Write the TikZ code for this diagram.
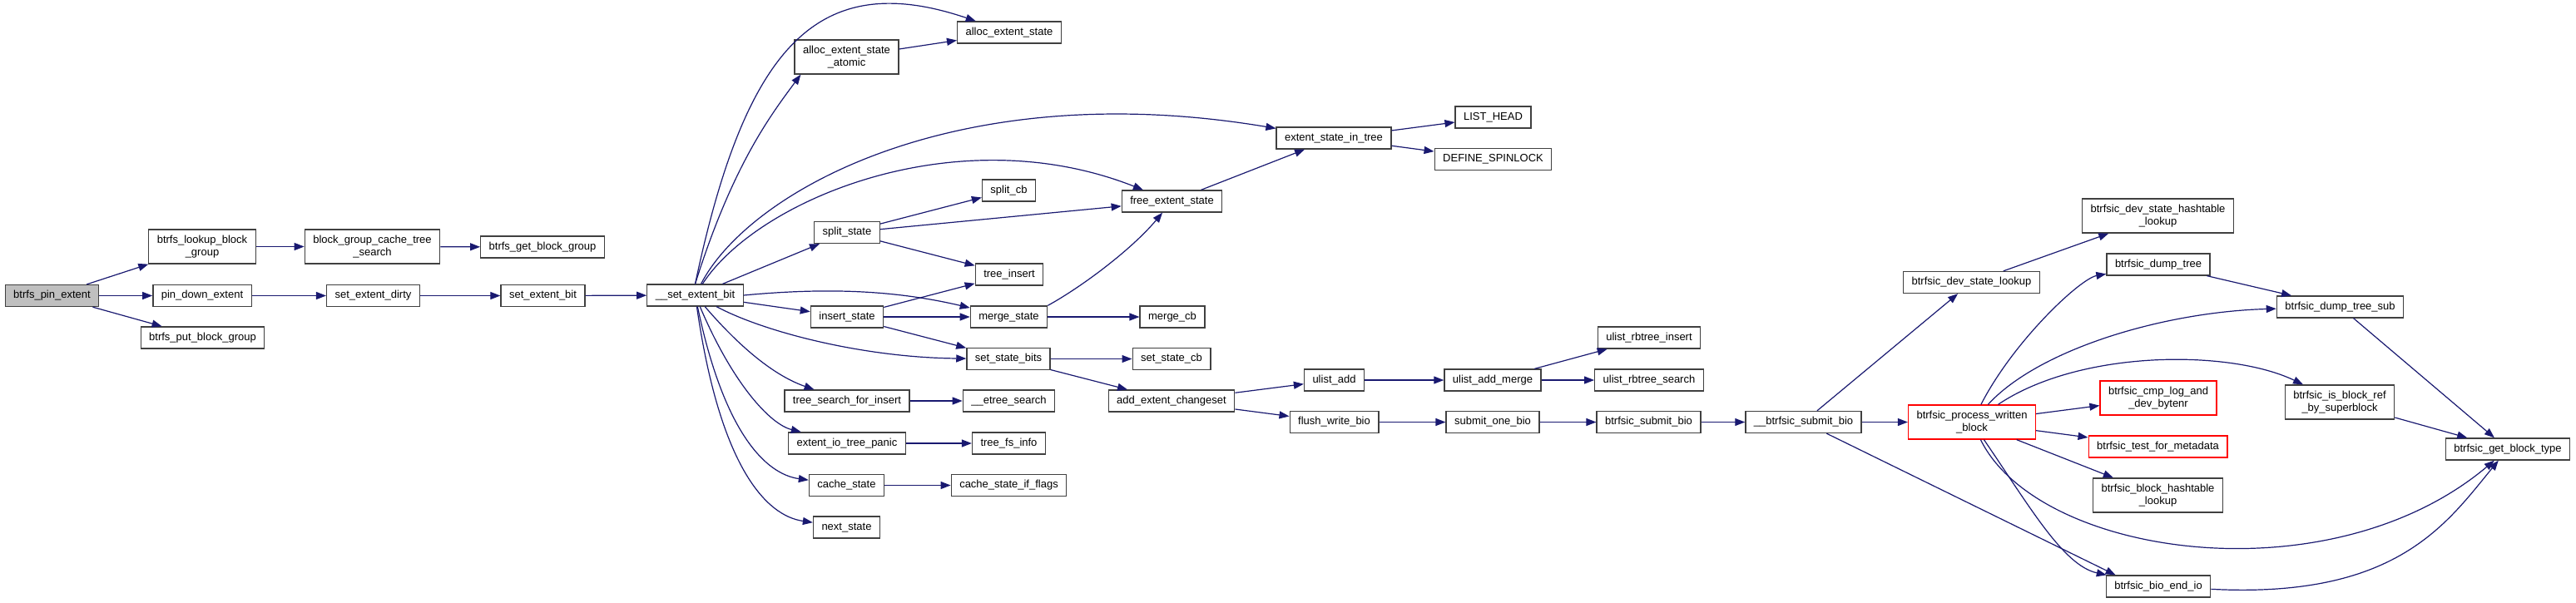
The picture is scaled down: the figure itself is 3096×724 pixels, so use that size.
\documentclass[tikz,border=0pt]{standalone}
\usepackage{fontspec}
\setmainfont{Liberation Sans}
\usetikzlibrary{arrows.meta}
\definecolor{callblue}{HTML}{191970}

\begin{document}
\begin{tikzpicture}[
    x=1pt, y=-1pt,
    font=\fontsize{13}{15}\selectfont,
    func/.style={rectangle, draw=black!75, line width=1.3pt, fill=white, minimum height=26pt,
      inner xsep=10pt, inner ysep=2pt, text height=9.5pt, text depth=3pt, align=center},
    func2/.style={func, minimum height=41pt, text height={}, text depth={}},
    rootfunc/.style={func, fill=black!25},
    redfunc/.style={func, draw=red},
    redfunc2/.style={func2, draw=red},
    call/.style={-{Triangle[length=12pt,width=9pt]}, line width=1.2pt, color=callblue},
  ]
  \useasboundingbox (0,0) rectangle (3096,724);

  \node[rootfunc] (pin)      at (62.5,355.5)  {btrfs\_pin\_extent};
  \node[func2]    (lookup)   at (243,296.5)   {btrfs\_lookup\_block\\\_group};
  \node[func2]    (bgcts)    at (447.5,296.5) {block\_group\_cache\_tree\\\_search};
  \node[func]     (getbg)    at (652,297)     {btrfs\_get\_block\_group};
  \node[func]     (pindown)  at (243,355.5)   {pin\_down\_extent};
  \node[func]     (putbg)    at (243.5,406)   {btrfs\_put\_block\_group};
  \node[func]     (setdirty) at (448.5,355.5) {set\_extent\_dirty};
  \node[func]     (setbit)   at (652.5,355.5) {set\_extent\_bit};
  \node[func]     (sebit)    at (835.5,355)   {\_\_set\_extent\_bit};

  \node[func]     (aes)      at (1213,39)     {alloc\_extent\_state};
  \node[func2]    (aesa)     at (1017.5,68.5) {alloc\_extent\_state\\\_atomic};
  \node[func]     (esit)     at (1603,166)    {extent\_state\_in\_tree};
  \node[func]     (splitcb)  at (1212.5,229)  {split\_cb};
  \node[func]     (fes)      at (1408.5,242)  {free\_extent\_state};
  \node[func]     (splitst)  at (1018,279.5)  {split\_state};
  \node[func]     (treeins)  at (1213,330)    {tree\_insert};
  \node[func]     (insst)    at (1018,381)    {insert\_state};
  \node[func]     (mergest)  at (1212.5,381)  {merge\_state};
  \node[func]     (mergecb)  at (1409,381)    {merge\_cb};
  \node[func]     (ssb)      at (1212,431.5)  {set\_state\_bits};
  \node[func]     (sscb)     at (1408,431.5)  {set\_state\_cb};
  \node[func]     (aec)      at (1408,482)    {add\_extent\_changeset};
  \node[func]     (tsfi)     at (1018,482)    {tree\_search\_for\_insert};
  \node[func]     (etree)    at (1212.5,482)  {\_\_etree\_search};
  \node[func]     (eitp)     at (1018,533)    {extent\_io\_tree\_panic};
  \node[func]     (tfsi)     at (1212.5,533)  {tree\_fs\_info};
  \node[func]     (cachest)  at (1017.5,583.5) {cache\_state};
  \node[func]     (csif)     at (1212.5,583.5) {cache\_state\_if\_flags};
  \node[func]     (nextst)   at (1017.5,634)  {next\_state};

  \node[func]     (listhead) at (1794.5,141)  {LIST\_HEAD};
  \node[func]     (spinlock) at (1794.5,191.5) {DEFINE\_SPINLOCK};
  \node[func]     (ulrbins)  at (1982,406)    {ulist\_rbtree\_insert};
  \node[func]     (uladd)    at (1603.5,457)  {ulist\_add};
  \node[func]     (uladdm)   at (1794,457)    {ulist\_add\_merge};
  \node[func]     (ulrbsrch) at (1982,457)    {ulist\_rbtree\_search};
  \node[func]     (fwb)      at (1603.5,507.5) {flush\_write\_bio};
  \node[func]     (sob)      at (1794,507.5)  {submit\_one\_bio};
  \node[func]     (bsb)      at (1981.5,507.5) {btrfsic\_submit\_bio};
  \node[func]     (ubsb)     at (2167.5,507.5) {\_\_btrfsic\_submit\_bio};

  \node[func2]    (dshl)     at (2593.5,259.5) {btrfsic\_dev\_state\_hashtable\\\_lookup};
  \node[func]     (dumptree) at (2594,318)    {btrfsic\_dump\_tree};
  \node[func]     (dsl)      at (2369.5,339.5) {btrfsic\_dev\_state\_lookup};
  \node[func]     (dts)      at (2812.5,369)  {btrfsic\_dump\_tree\_sub};
  \node[redfunc2] (cmplog)   at (2594,478.5)  {btrfsic\_cmp\_log\_and\\\_dev\_bytenr};
  \node[func2]    (isref)    at (2812,483.5)  {btrfsic\_is\_block\_ref\\\_by\_superblock};
  \node[redfunc2] (pwb)      at (2370,507.5)  {btrfsic\_process\_written\\\_block};
  \node[redfunc]  (tfm)      at (2593.5,537)  {btrfsic\_test\_for\_metadata};
  \node[func]     (gbt)      at (3014,540)    {btrfsic\_get\_block\_type};
  \node[func2]    (bhl)      at (2593.5,595.5) {btrfsic\_block\_hashtable\\\_lookup};
  \node[func]     (beio)     at (2594,705)    {btrfsic\_bio\_end\_io};

  \draw[call] (pin) -- (lookup);
  \draw[call] (pin) -- (pindown);
  \draw[call] (pin) -- (putbg);
  \draw[call] (lookup) -- (bgcts);
  \draw[call] (bgcts) -- (getbg);
  \draw[call] (pindown) -- (setdirty);
  \draw[call] (setdirty) -- (setbit);
  \draw[call] (setbit) -- (sebit);

  \draw[call] (sebit.north) .. controls (895,60) and (980,-40) .. (aes);
  \draw[call] (sebit.north) .. controls (880,200) and (925,140) .. (aesa.201);
  \draw[call] (aesa) -- (aes);
  \draw[call] (sebit) .. controls (900,230) and (1150,90) .. (esit);
  \draw[call] (sebit) .. controls (910,240) and (1150,140) .. (fes);
  \draw[call] (sebit) -- (splitst);
  \draw[call] (sebit.east) .. controls (1000,345) and (1080,350) .. (mergest);
  \draw[call] (sebit) -- (insst);
  \draw[call] (sebit) .. controls (920,400) and (1040,430) .. (ssb);
  \draw[call] (sebit) .. controls (900,430) and (940,455) .. (tsfi);
  \draw[call] (sebit) .. controls (880,460) and (925,510) .. (eitp);
  \draw[call] (sebit) .. controls (870,520) and (920,570) .. (cachest);
  \draw[call] (sebit) .. controls (865,560) and (920,620) .. (nextst);

  \draw[call] (splitst) -- (splitcb);
  \draw[call] (splitst) -- (fes);
  \draw[call] (splitst) -- (treeins);
  \draw[call] (insst) -- (treeins);
  \draw[call] (insst) -- (mergest);
  \draw[call] (insst) -- (ssb);
  \draw[call] (mergest.north east) .. controls (1300,345) and (1360,300) .. (fes);
  \draw[call] (mergest) -- (mergecb);
  \draw[call] (fes) -- (esit);
  \draw[call] (esit) -- (listhead);
  \draw[call] (esit) -- (spinlock);
  \draw[call] (ssb) -- (sscb);
  \draw[call] (ssb) -- (aec);
  \draw[call] (tsfi) -- (etree);
  \draw[call] (eitp) -- (tfsi);
  \draw[call] (cachest) -- (csif);

  \draw[call] (aec) -- (uladd);
  \draw[call] (aec) -- (fwb);
  \draw[call] (uladd) -- (uladdm);
  \draw[call] (uladdm) -- (ulrbins);
  \draw[call] (uladdm) -- (ulrbsrch);
  \draw[call] (fwb) -- (sob);
  \draw[call] (sob) -- (bsb);
  \draw[call] (bsb) -- (ubsb);

  \draw[call] (ubsb) -- (dsl);
  \draw[call] (ubsb) -- (pwb);
  \draw[call] (ubsb) -- ([xshift=12pt]beio.north west);
  \draw[call] (dsl) -- (dshl);
  \draw[call] (pwb) .. controls (2420,410) and (2500,335) .. (dumptree);
  \draw[call] (pwb) .. controls (2450,420) and (2600,375) .. (dts);
  \draw[call] (pwb) .. controls (2500,420) and (2680,420) .. (isref);
  \draw[call] (pwb) -- (cmplog);
  \draw[call] (pwb) -- (tfm);
  \draw[call] (pwb) -- (bhl);
  \draw[call] (pwb) .. controls (2450,670) and (2800,720) .. (gbt);
  \draw[call] (pwb) .. controls (2440,610) and (2480,680) .. (beio);
  \draw[call] (dumptree) -- (dts);
  \draw[call] (dts) -- (gbt);
  \draw[call] (isref) -- (gbt);
  \draw[call] (beio) .. controls (2880,720) and (2940,630) .. (gbt);
\end{tikzpicture}
\end{document}
